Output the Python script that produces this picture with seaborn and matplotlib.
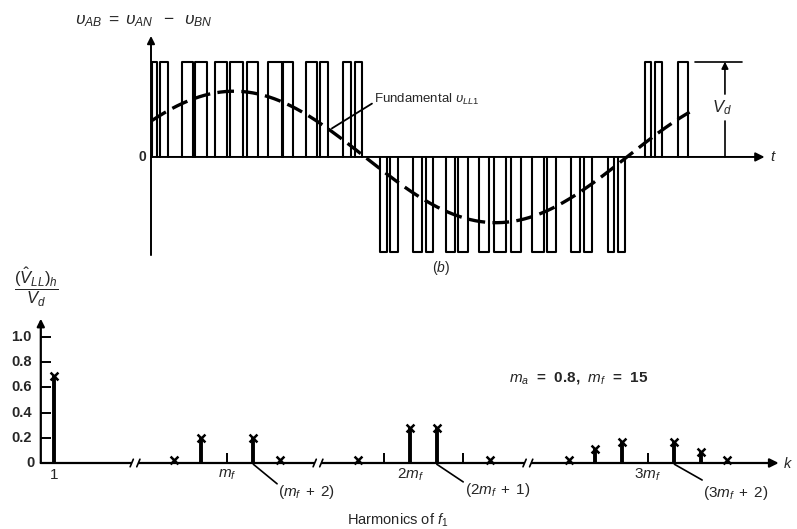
import numpy as np
import pandas as pd
import matplotlib
matplotlib.use("Agg")
import matplotlib.pyplot as plt
import seaborn as sns

# ---------------- data ----------------
# top panel: PWM line-to-line voltage, time as fundamental angle (deg), amplitude in units of Vd
pos_pulse_start = [0.7, 6.2, 21.3, 30.2, 44.0, 54.3, 66.0, 80.4, 90.7, 106.5, 116.1, 131.9, 140.1,
                   339.4, 346.2, 362.1]
pos_pulse_end = [4.1, 11.7, 28.9, 38.5, 52.2, 63.2, 73.5, 90.0, 97.6, 114.0, 121.6, 137.4, 145.0,
                 343.5, 351.1, 369.0]
neg_pulse_start = [157.3, 164.2, 180.0, 188.9, 202.7, 210.9, 225.3, 235.6, 247.3, 261.8, 272.0,
                   288.5, 297.5, 314.0, 320.9]
neg_pulse_end = [162.1, 169.7, 186.2, 193.7, 208.8, 217.8, 232.2, 243.9, 254.2, 270.0, 278.2,
                 294.7, 303.0, 318.2, 325.7]
fund_amplitude = 0.69       # fundamental v_LL1 / Vd
fund_phase_deg = 33.0       # phase of the fundamental at t = 0
fund_end_deg = 370.0

# bottom panel: harmonic spectrum (V_LL)_h / Vd, ma = 0.8, mf = 15
harm_order = [1, 11, 13, 17, 19, 25, 29, 31, 35, 39, 41, 43, 47, 49, 51]
harm_amp = [0.69, 0.02, 0.20, 0.20, 0.02, 0.02, 0.28, 0.28, 0.02, 0.02, 0.11, 0.17, 0.17, 0.09, 0.02]
zero_harm_order = [15, 27, 33, 45]     # triplen harmonics (cancelled), marked by small ticks
ytick_values = [0.2, 0.4, 0.6, 0.8, 1.0]
ytick_labels = ["0.2", "0.4", "0.6", "0.8", "1.0"]
harm_group_labels = ["1", r"$m_f$", r"$2m_f$", r"$3m_f$"]
harm_group_orders = [1, 15, 30, 45]

# ---------------- style ----------------
sns.set_theme(style="white")
plt.rcParams['font.family'] = ['Liberation Sans', 'DejaVu Sans']
plt.rcParams['mathtext.fontset'] = 'custom'
plt.rcParams['mathtext.rm'] = 'Liberation Sans'
plt.rcParams['mathtext.it'] = 'Liberation Sans:italic'
plt.rcParams['mathtext.bf'] = 'Liberation Sans:bold'

W, H = 797, 529
fig = plt.figure(figsize=(W / 100, H / 100), dpi=100)
fig.patch.set_facecolor("white")


def px_axes(x0, y0, x1, y1):
    """axes from pixel box (top-left origin)"""
    a = fig.add_axes([x0 / W, 1 - y1 / H, (x1 - x0) / W, (y1 - y0) / H])
    a.set_axis_off()
    return a


def ftext(x, y, s, **kw):
    fig.text(x / W, 1 - y / H, s, **kw)


K = "black"

# ================= top panel =================
ax1 = px_axes(151, 35, 780, 257)
ax1.set_xlim(0, (780 - 151) / 1.4556)
ax1.set_ylim(-1.05, 1.28)

xs, ys = [], []
for a, b in zip(pos_pulse_start, pos_pulse_end):
    xs += [a, a, b, b, np.nan]
    ys += [0, 1, 1, 0, np.nan]
for a, b in zip(neg_pulse_start, neg_pulse_end):
    xs += [a, a, b, b, np.nan]
    ys += [0, -1, -1, 0, np.nan]
ax1.plot(xs, ys, color=K, lw=1.5, solid_joinstyle='round', clip_on=False)

theta = np.linspace(0.5, fund_end_deg, 400)
fund = pd.DataFrame({"t": theta,
                     "v": fund_amplitude * np.sin(np.deg2rad(theta + fund_phase_deg))})
sns.lineplot(data=fund, x="t", y="v", ax=ax1, color=K, linewidth=2.4,
             linestyle=(0, (5, 2.2)), estimator=None, sort=False, legend=False)
ax1.set_axis_off()

# axes with arrows
ax1.annotate("", xy=(421.5, 0), xytext=(0, 0),
             arrowprops=dict(arrowstyle='-|>', color=K, lw=1.4, mutation_scale=13,
                             shrinkA=0, shrinkB=0))
ax1.annotate("", xy=(0, 1.27), xytext=(0, -1.03),
             arrowprops=dict(arrowstyle='-|>', color=K, lw=1.4, mutation_scale=11,
                             shrinkA=0, shrinkB=0))
ax1.text(-3.5, 0, "0", ha='right', va='center', fontsize=10, fontweight='bold')
ax1.text(425, 0, r"$t$", ha='left', va='center', fontsize=11)

# Vd dimension
ax1.plot([373.7, 406], [1, 1], color=K, lw=1.2)
ax1.plot([394.3, 394.3], [0, 0.38], color=K, lw=1.2)
ax1.annotate("", xy=(394.3, 1.0), xytext=(394.3, 0.66),
             arrowprops=dict(arrowstyle='-|>', color=K, lw=1.2, mutation_scale=10,
                             shrinkA=0, shrinkB=0))
ax1.text(392, 0.52, r"$V_d$", ha='center', va='center', fontsize=12)

# fundamental label with leader
ax1.plot([124.3, 151.8], [0.30, 0.56], color=K, lw=1.3)
ftext(374, 99, "Fundamental " + r"$\upsilon_{LL1}$", ha='left', va='center', fontsize=9.5)

ftext(75, 21, r"$\upsilon_{AB}\;=\;\upsilon_{AN}\;\;-\;\;\upsilon_{BN}$", ha='left', va='center',
      fontsize=12.5)
ftext(441, 268, r"$(b)$", ha='center', va='center', fontsize=10)

# ================= bottom panel =================
PX_PER = 13.2
ax2 = px_axes(40.8, 318, W, 470)
ax2.set_xlim(0, (W - 40.8) / PX_PER)
ax2.set_ylim(-(470 - 463) / 126, (463 - 318) / 126)


def axis_pos(k):
    """position on the broken harmonic axis"""
    if k < 8:
        return k
    if k < 22:
        return k - 0.9
    if k < 37:
        return k - 1.0
    return k + 1.0


breaks = [7.14, 21.0, 36.9]

spec = pd.DataFrame({"k": harm_order, "amp": harm_amp})
spec["pos"] = [axis_pos(k) for k in spec["k"]]

# x axis with arrow
ax2.annotate("", xy=(55.9, 0), xytext=(0, 0),
             arrowprops=dict(arrowstyle='-|>', color=K, lw=1.6, mutation_scale=13,
                             shrinkA=0, shrinkB=0))
# y axis with arrow
ax2.annotate("", xy=(0, 1.145), xytext=(0, 0),
             arrowprops=dict(arrowstyle='-|>', color=K, lw=1.6, mutation_scale=11,
                             shrinkA=0, shrinkB=0))
ax2.hlines(ytick_values, 0, 10 / PX_PER, color=K, lw=1.4)
for v, lab in zip(ytick_values, ytick_labels):
    ax2.text(-1.45, v, lab, ha='center', va='center', fontsize=10.5, fontweight='bold')
ax2.text(-0.75, 0, "0", ha='center', va='center', fontsize=10.5, fontweight='bold')

# breaks
for b in breaks:
    ax2.plot([b - 0.22, b + 0.22], [0, 0], color='white', lw=4, solid_capstyle='butt', zorder=3)
    for d in (-0.25, 0.25):
        ax2.plot([b + d - 0.12, b + d + 0.12], [-0.03, 0.03], color=K, lw=1.2, zorder=4)

# stems
big = spec[spec["amp"] > 0.05]
ax2.vlines(big["pos"], 0, big["amp"], color=K, lw=2.8)
sns.scatterplot(data=spec, x="pos", y="amp", ax=ax2, marker='x', s=32, color=K,
                linewidth=1.8, zorder=5, legend=False, clip_on=False)
ax2.set_axis_off()

# triplen ticks
ax2.vlines([axis_pos(k) for k in zero_harm_order], 0, 0.08, color=K, lw=1.4)

# labels under axis
for k, lab in zip(harm_group_orders, harm_group_labels):
    p = axis_pos(k)
    if k == 30:
        p -= 1.0
    ax2.text(p, -0.095, lab, ha='center', va='center', fontsize=11)

# annotations with leader lines
annots = [(17, r"$(m_f\;+\;2)$", 17.9, -0.165, -0.23),
          (31, r"$(2m_f\;+\;1)$", 32.0, -0.15, -0.215),
          (47, r"$(3m_f\;+\;2)$", 50.1, -0.135, -0.235)]
for k, lab, xe, ye, yt in annots:
    p = axis_pos(k)
    ax2.plot([p, xe], [-0.01, ye], color=K, lw=1.2, clip_on=False)
    ax2.text(xe + 0.1, yt, lab, ha='left', va='center', fontsize=11)

ftext(783, 463, r"$k$", ha='left', va='center', fontsize=10.5)

ftext(579, 378, r"$m_a$  =  0.8,  $m_f$  =  15", ha='center', va='center', fontsize=11,
      fontweight='bold')
ftext(398, 520, r"Harmonics of $f_1$", ha='center', va='center', fontsize=10.5)
ftext(36, 287, r"$\dfrac{(\hat{V}_{LL})_h}{V_d}$", ha='center', va='center', fontsize=12)

fig.savefig("out.png", dpi=100, facecolor="white")
